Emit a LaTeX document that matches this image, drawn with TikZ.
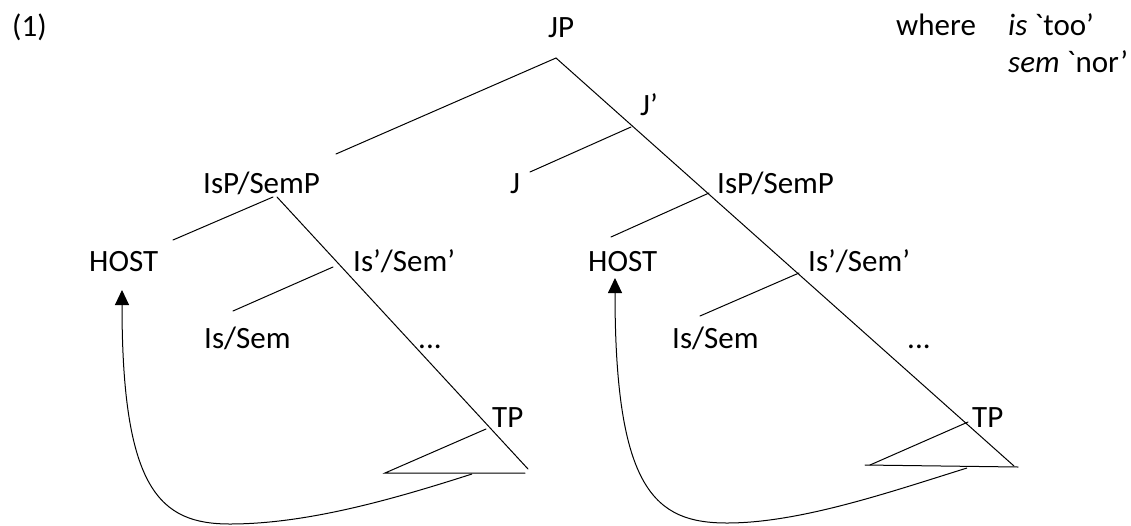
\documentclass[tikz,border=0pt]{standalone}
\usepackage{fontspec}
\setmainfont{Carlito}[Ligatures=TeXOff]
\usetikzlibrary{arrows.meta}
\tikzset{
  lbl/.style={anchor=base west, inner sep=0pt, font=\fontsize{31}{37}\selectfont},
  edge/.style={line width=1pt, line cap=round},
  mv/.style={line width=1pt, -{Triangle[width=14pt,length=15pt]}}
}
\begin{document}
\begin{tikzpicture}[x=1pt,y=-1pt]
\useasboundingbox (0,0) rectangle (1131,525);
% texts
\node[lbl] (ex) at (12,36) {(1)};
\node[lbl] (jp) at (548,37) {JP};
\node[lbl] (where) at (896,35) {where};
\node[lbl] (istoo) at (1008,35) {\textit{is} `too’};
\node[lbl] (semnor) at (1008,72) {\textit{sem} `nor’};
\node[lbl] (jbar) at (640,115) {J’};
\node[lbl] (j) at (510,193) {J};
\node[lbl] (ispL) at (203,193) {IsP/SemP};
\node[lbl] (hostL) at (89,271) {HOST};
\node[lbl] (isbarL) at (353,271) {Is’/Sem’};
\node[lbl] (isL) at (204,348) {Is/Sem};
\node[lbl] (dotsL) at (418,348) {...};
\node[lbl] (tpL) at (492,427) {TP};
\node[lbl] (ispR) at (717,193) {IsP/SemP};
\node[lbl] (hostR) at (588,271) {HOST};
\node[lbl] (isbarR) at (808,271) {Is’/Sem’};
\node[lbl] (isR) at (672,348) {Is/Sem};
\node[lbl] (dotsR) at (907,348) {...};
\node[lbl] (tpR) at (972,427) {TP};
% coordinates
\coordinate (apex) at (556,58);
\coordinate (leftend) at (336,154);
\coordinate (rightend) at (1014,466);
\coordinate (jbarpt) at (631,127);
\coordinate (jpt) at (530,172);
% left tree
\coordinate (Ltop) at (277,197);
\coordinate (Ltop2) at (273,197);
\coordinate (Lbot) at (528,469);
\coordinate (Lhost) at (173,240);
\coordinate (Lbar) at (333,267);
\coordinate (Lis) at (233,311);
\coordinate (Ltp) at (486,429);
\coordinate (Ltri1) at (385,473);
\coordinate (Ltri2) at (525,473);
\coordinate (Lmv) at (472,474);
\coordinate (Lbotc) at (230,524);
\coordinate (Ltip) at (122,290);
% right tree
\coordinate (Rtop) at (709,193);
\coordinate (Rhost) at (611,237);
\coordinate (Rbar) at (799,273);
\coordinate (Ris) at (700,316);
\coordinate (Rtp) at (968,422);
\coordinate (Rtri1) at (870,465);
\coordinate (Rtri0) at (865,465);
\coordinate (Rtri2) at (1018,467);
\coordinate (Rmv) at (967,468);
\coordinate (Rbotc) at (727,523);
\coordinate (Rtip) at (615,278);
% lines
\draw[edge] (apex) -- (leftend);
\draw[edge] (apex) -- (rightend);
\draw[edge] (jbarpt) -- (jpt);
\draw[edge] (Ltop) -- (Lbot);
\draw[edge] (Ltop2) -- (Lhost);
\draw[edge] (Lbar) -- (Lis);
\draw[edge] (Ltp) -- (Ltri1) -- (Ltri2);
\draw[edge] (Rtop) -- (Rhost);
\draw[edge] (Rbar) -- (Ris);
\draw[edge] (Rtp) -- (Rtri1);
\draw[edge] (Rtri0) -- (Rtri2);
% movement arrows
\draw[mv] (Lmv) .. controls (400,497) and (310,524) .. (Lbotc)
  .. controls (160,524) and (122,490) .. (Ltip);
\draw[mv] (Rmv) .. controls (890,492) and (800,523) .. (Rbotc)
  .. controls (655,523) and (615,490) .. (Rtip);
\end{tikzpicture}
\end{document}
